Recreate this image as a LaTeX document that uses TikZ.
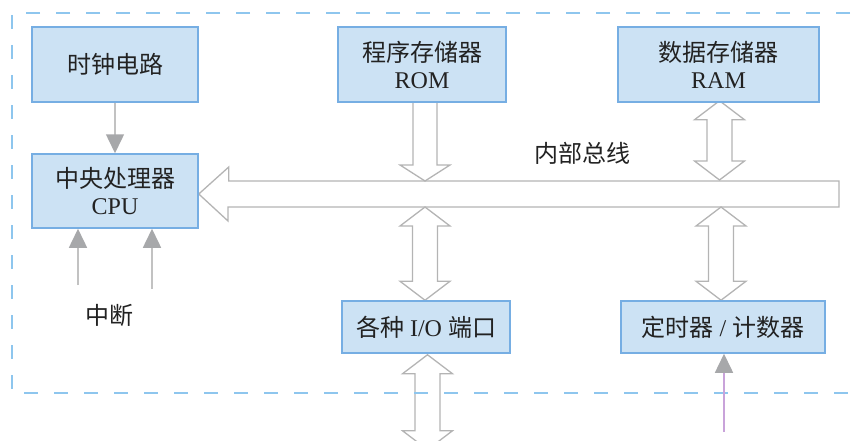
\documentclass[tikz,border=0pt]{standalone}
\usepackage{fontspec}
\setmainfont{Liberation Serif}
\newfontfamily\cjk{Noto Sans CJK SC}
\usetikzlibrary{arrows.meta,calc,backgrounds}
\definecolor{boxfill}{HTML}{CCE2F4}
\definecolor{boxline}{HTML}{76AEE3}
\definecolor{dashc}{HTML}{8EC6EE}
\definecolor{arrc}{HTML}{B4B4B4}
\definecolor{linec}{HTML}{C2C2C2}
\definecolor{headc}{HTML}{A7A8AA}
\definecolor{purp}{HTML}{C9A3DA}
\definecolor{txt}{HTML}{222222}
\newcommand\vdbl[2]{\draw[blk] (#1) -- ($(#1)+(25,19)$) -- ($(#1)+(12.5,19)$) -- ($(#2)+(12.5,-19)$) -- ($(#2)+(25,-19)$) -- (#2) -- ($(#2)+(-25,-19)$) -- ($(#2)+(-12.5,-19)$) -- ($(#1)+(-12.5,19)$) -- ($(#1)+(-25,19)$) -- cycle;}
\begin{document}
\begin{tikzpicture}[x=1pt,y=-1pt,
 blk/.style={draw=arrc,line width=1.3pt,fill=white,line join=miter},
 unit/.style={draw=boxline,fill=boxfill,line width=1.5pt,text=txt,font=\fontsize{24}{27}\selectfont,align=center,inner sep=0pt},
 thinarrow/.style={draw=linec,line width=1.5pt,-{Triangle[length=19pt,width=18pt,color=headc]}},
 lbl/.style={text=txt,font=\fontsize{24}{27}\selectfont,inner sep=0pt},
 frame/.style={draw=dashc,line width=1.5pt,dash pattern=on 14pt off 16pt}]
\useasboundingbox (0,0) rectangle (858,441);
\clip (0,0) rectangle (858,441);
\draw[frame] (880,13) -- (12,13) -- (12,393) -- (880,393);

\node[unit,minimum width=166pt,minimum height=75pt] (clock) at (115,64.5) {\cjk 时钟电路};
\node[unit,minimum width=168pt,minimum height=75pt] (rom) at (422,64.5) {{\cjk 程序存储器}\\ROM};
\node[unit,minimum width=201pt,minimum height=75pt] (ram) at (718.5,64.5) {{\cjk 数据存储器}\\RAM};
\node[unit,minimum width=166pt,minimum height=74pt] (cpu) at (115,191) {{\cjk 中央处理器}\\CPU};
\node[unit,minimum width=168pt,minimum height=52pt] (io) at (426,327) {{\cjk 各种} I/O {\cjk 端口}};
\node[unit,minimum width=204pt,minimum height=52pt] (timer) at (723,327) {{\cjk 定时器} / {\cjk 计数器}};
\node[lbl] (buslbl) at (582,153) {\cjk 内部总线};
\node[lbl] (intlbl) at (109,315) {\cjk 中断};

\begin{scope}[on background layer]
\coordinate (busTop) at (839,181);
\coordinate (busBot) at (839,207);
% internal bus
\draw[blk] ($(cpu.east)+(0,3)$) -- ++(30,-27) -- ++(0,14) -- (busTop) -- (busBot) -- (228,207) -- (228,221) -- cycle;
% ROM -> bus
\coordinate (a1) at ($(rom.south)+(3,0)$);
\coordinate (a1b) at (a1 |- busTop);
\draw[blk] ($(a1)+(-12,0)$) -- ($(a1b)+(-12,-16)$) -- ($(a1b)+(-25,-16)$) -- (a1b) -- ($(a1b)+(25,-16)$) -- ($(a1b)+(12,-16)$) -- ($(a1)+(12,0)$);
% bus <-> IO
\coordinate (a2t) at (a1 |- busBot);
\coordinate (a2b) at (a1 |- io.north);
\vdbl{a2t}{a2b}
% RAM <-> bus
\coordinate (a3t) at ($(ram.south)+(1,-2)$);
\coordinate (a3b) at ($(a3t |- busTop)+(0,-1)$);
\vdbl{a3t}{a3b}
% bus <-> timer
\coordinate (a4t) at ($(timer.north |- busBot)+(-2,0)$);
\coordinate (a4b) at (a4t |- timer.north);
\vdbl{a4t}{a4b}
% IO <-> outside
\coordinate (a5t) at ($(io.south)+(1.5,1)$);
\coordinate (a5b) at ($(a5t)+(0,95)$);
\vdbl{a5t}{a5b}
\end{scope}

\draw[thinarrow] (clock.south) -- (cpu.north);
\coordinate (i1) at (78,285);
\coordinate (i2) at (152,289);
\draw[thinarrow] (i1) -- (i1 |- cpu.south);
\draw[thinarrow] (i2) -- (i2 |- cpu.south);
\coordinate (t1) at (724,432);
\draw[thinarrow,draw=purp] (t1) -- (t1 |- timer.south);
\end{tikzpicture}
\end{document}
